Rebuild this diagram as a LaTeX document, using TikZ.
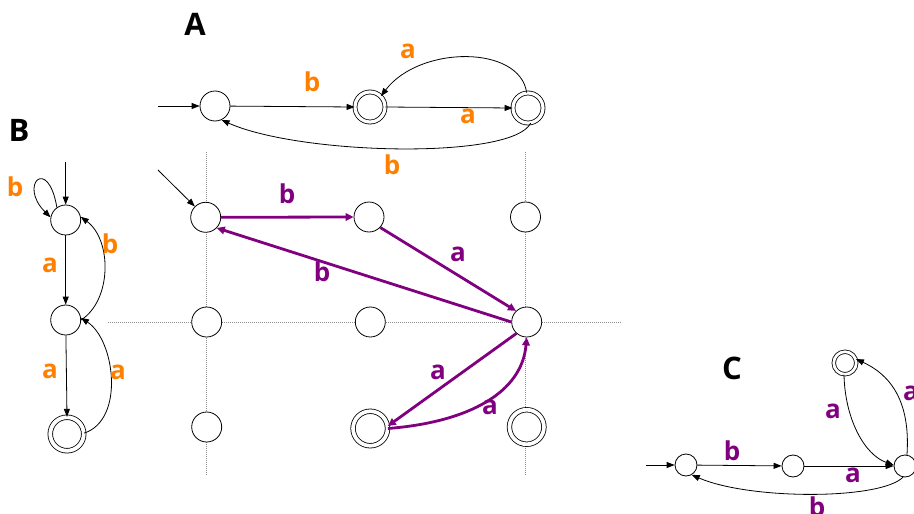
\documentclass[tikz,border=0pt]{standalone}
\usepackage{fontspec}
\newfontfamily\lblfont{Open Sans}
\usetikzlibrary{arrows.meta}
\definecolor{orng}{RGB}{255,128,0}
\definecolor{purp}{RGB}{128,0,128}
\tikzset{
  st/.style={circle, draw, fill=white, line width=0.8pt, minimum size=#1, inner sep=0pt},
  st/.default=30pt,
  acc/.style={circle, draw, fill=white, line width=0.8pt, double, double distance=#1, inner sep=0pt},
  tr/.style={line width=0.8pt, -{Triangle[length=8pt,width=6pt]}},
  ptr/.style={line width=2.8pt, draw=purp, -{Triangle[length=8pt,width=7.5pt]}},
  guide/.style={draw=black!45, line width=0.5pt, dash pattern=on 0.8pt off 1.2pt},
  lo/.style={font=\lblfont\bfseries\fontsize{26}{26}\selectfont, text=orng},
  lp/.style={font=\lblfont\bfseries\fontsize{26}{26}\selectfont, text=purp},
  ttl/.style={font=\lblfont\bfseries\fontsize{31}{31}\selectfont}
}
\begin{document}
\begin{tikzpicture}[x=1pt,y=-1pt]
\useasboundingbox (0,0) rectangle (914,514);
\fill[white] (0,0) rectangle (914,514);

% guide lines of the grid
\draw[guide] (206,152) -- (206,475);
\draw[guide] (525.5,152) -- (525.5,475);
\draw[guide] (108,322) -- (622,322);

% ---------- automaton A ----------
\node[ttl] (tA) at (195,24) {A};
\node[st] (a1) at (215,106) {};
\node[acc=3.2pt, minimum size=30pt] (a2) at (370,107) {};
\node[acc=3.2pt, minimum size=30pt] (a3) at (528,108) {};
\coordinate (a0) at (158,106);
\draw[tr] (a0) -- (a1);
\draw[tr] (a1) -- (a2.west);
\draw[tr] (a2.east) -- (a3.west);
\draw[tr] (a3.95) .. controls (520,45) and (420,45) .. (a2.45);
\draw[tr] (a3.-80) .. controls (512,160) and (300,155) .. (a1.-65);
\node[lo] (la1) at (312,82) {b};
\node[lo] (la2) at (468,116) {a};
\node[lo] (la3) at (408,51) {a};
\node[lo] (la4) at (392,165) {b};

% ---------- automaton B ----------
\node[ttl] (tB) at (19,130) {B};
\node[st] (b1) at (65.7,220) {};
\node[st] (b2) at (65.7,320) {};
\node[acc=3.8pt, minimum size=33.5pt] (b3) at (67,434) {};
\coordinate (b0) at (65.7,162);
\draw[tr] (b0) -- (b1);
\draw[tr] (b1) -- (b2);
\draw[tr] (b2) -- (b3.north);
\draw[tr] (b1.125) .. controls (48,155) and (18,185) .. (b1.170);
\draw[tr] (b2.0) .. controls (112,300) and (112,240) .. (b1.12);
\draw[tr] (b3.3) .. controls (125,420) and (115,340) .. (b2.8);
\node[lo] (lb1) at (15,187) {b};
\node[lo] (lb2) at (50,265) {a};
\node[lo] (lb3) at (50,371) {a};
\node[lo] (lb4) at (110,244) {b};
\node[lo] (lb5) at (118,372) {a};

% ---------- the grid ----------
\node[st] (g11) at (205.7,217.3) {};
\node[st] (g12) at (369,217) {};
\node[st] (g13) at (525.5,217) {};
\node[st] (g21) at (206.7,322) {};
\node[st] (g22) at (370.3,322) {};
\node[st] (g23) at (526.7,322) {};
\node[st] (g31) at (206.7,427) {};
\node[acc=3.7pt, minimum size=34.5pt] (g32) at (370.3,428.5) {};
\node[acc=3.7pt, minimum size=34.5pt] (g33) at (526.7,427) {};
\coordinate (g0) at (158,170);
\draw[tr] (g0) -- (g11.135);
\draw[ptr] (g11.east) -- (g12.west);
\draw[ptr] (g12.-43) -- (g23.134);
\draw[ptr] (g23.west) -- (g11.-44);
\draw[ptr] (g23.-132) -- (g32.8);
\draw[ptr] (g32.east) .. controls (470,422) and (522,392) .. (g23.-90);
\node[lp] (lg1) at (287,194) {b};
\node[lp] (lg2) at (458,254) {a};
\node[lp] (lg3) at (322,272) {b};
\node[lp] (lg4) at (438,372) {a};
\node[lp] (lg5) at (490,407) {a};

% ---------- automaton C ----------
\node[ttl] (tC) at (732,368) {C};
\node[st=22pt] (c1) at (686,465) {};
\node[st=22pt] (c2) at (793,466) {};
\node[st=22pt] (c3) at (905,466) {};
\node[acc=2.7pt, minimum size=22.5pt] (c4) at (845,363) {};
\coordinate (c0) at (646,465);
\draw[tr] (c0) -- (c1);
\draw[tr] (c1) -- (c2);
\draw[tr] (c2) -- (c3);
\draw[tr] (c3.80) .. controls (910,410) and (897,378) .. (c4.20);
\draw[tr] (c4.-95) .. controls (845,420) and (865,455) .. (c3.175);
\draw[tr] (c3.-100) .. controls (880,500) and (750,500) .. (c1.-60);
\node[lp] (lc1) at (732,451) {b};
\node[lp] (lc2) at (853,475) {a};
\node[lp] (lc3) at (833,411) {a};
\node[lp] (lc4) at (911,393) {a};
\node[lp] (lc5) at (817,507) {b};
\end{tikzpicture}
\end{document}
